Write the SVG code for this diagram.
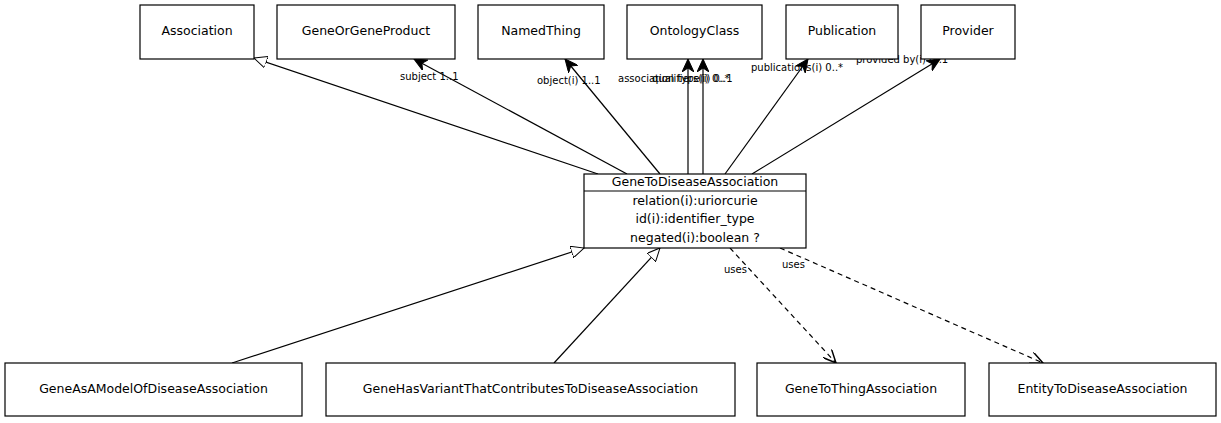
<svg xmlns="http://www.w3.org/2000/svg" width="1221" height="423" viewBox="0 0 1221 423">
<style>
.box{fill:#fff;stroke:#000;stroke-width:1.2}
.t{font-family:"DejaVu Sans",sans-serif;font-size:12.5px;text-anchor:middle;fill:#000}
.l{font-family:"DejaVu Sans",sans-serif;font-size:10px;fill:#000}
.c{fill:none;stroke:#000;stroke-width:1.2}
.d{fill:none;stroke:#000;stroke-width:1.2;stroke-dasharray:5,4}
</style>
<defs>
<marker id="tri" viewBox="0 0 14 12" refX="13" refY="6" markerWidth="14" markerHeight="12" markerUnits="userSpaceOnUse" orient="auto">
<path d="M0,0 L13,6 L0,12 Z" fill="#fff" stroke="#000" stroke-width="1"/>
</marker>
<marker id="open" viewBox="0 0 14 12" refX="13" refY="6" markerWidth="14" markerHeight="12" markerUnits="userSpaceOnUse" orient="auto">
<path d="M0,0 L13,6 L0,12 L4,6 Z" fill="#000" stroke="#000" stroke-width="1"/>
</marker>
<marker id="vee" viewBox="0 0 14 12" refX="13" refY="6" markerWidth="14" markerHeight="12" markerUnits="userSpaceOnUse" orient="auto">
<path d="M0,0 L13,6 L0,12" fill="none" stroke="#000" stroke-width="1.5"/>
</marker>
</defs>
<g id="connectors">
<path class="c" d="M598,174 L254,58" marker-end="url(#tri)"/>
<path class="c" d="M627,174 L414,59" marker-end="url(#open)"/>
<path class="c" d="M660,174 L565,59" marker-end="url(#open)"/>
<path class="c" d="M688,174 L688,59" marker-end="url(#open)"/>
<path class="c" d="M703,174 L703,59" marker-end="url(#open)"/>
<path class="c" d="M725,174 L808,59" marker-end="url(#open)"/>
<path class="c" d="M752,174 L940,59" marker-end="url(#open)"/>
<path class="c" d="M232,363 L584,248" marker-end="url(#tri)"/>
<path class="c" d="M554,363 L660,248" marker-end="url(#tri)"/>
<path class="d" d="M730,248 L836,363" marker-end="url(#vee)"/>
<path class="d" d="M780,248 L1043,363" marker-end="url(#vee)"/>
<text class="l" x="400" y="80">subject 1..1</text>
<text class="l" x="537" y="84">object(i) 1..1</text>
<text class="l" x="618" y="82">association type(i) 0..1</text>
<text class="l" x="652" y="82">qualifiers(i) 0..*</text>
<text class="l" x="751" y="71">publications(i) 0..*</text>
<text class="l" x="856" y="63">provided by(i) 0..1</text>
<text class="l" x="724" y="273">uses</text>
<text class="l" x="782" y="268">uses</text>
</g>
<g id="Association"><rect class="box" x="140" y="5" width="114" height="54"/><text class="t" x="197" y="35">Association</text></g>
<g id="GeneOrGeneProduct"><rect class="box" x="277" y="5" width="178" height="54"/><text class="t" x="366" y="35">GeneOrGeneProduct</text></g>
<g id="NamedThing"><rect class="box" x="478" y="5" width="126" height="54"/><text class="t" x="541" y="35">NamedThing</text></g>
<g id="OntologyClass"><rect class="box" x="627" y="5" width="135" height="54"/><text class="t" x="694.5" y="35">OntologyClass</text></g>
<g id="Publication"><rect class="box" x="786" y="5" width="112" height="54"/><text class="t" x="842" y="35">Publication</text></g>
<g id="Provider"><rect class="box" x="921" y="5" width="94" height="54"/><text class="t" x="968" y="35">Provider</text></g>
<g id="GeneToDiseaseAssociation">
<rect class="box" x="584" y="174" width="222" height="74"/>
<line class="c" x1="584" y1="191" x2="806" y2="191"/>
<text class="t" x="695" y="186">GeneToDiseaseAssociation</text>
<text class="t" x="695" y="205">relation(i):uriorcurie</text>
<text class="t" x="695" y="223">id(i):identifier_type</text>
<text class="t" x="695" y="242">negated(i):boolean ?</text>
</g>
<g id="GeneAsAModelOfDiseaseAssociation"><rect class="box" x="5" y="363" width="297" height="53"/><text class="t" x="153.5" y="393">GeneAsAModelOfDiseaseAssociation</text></g>
<g id="GeneHasVariantThatContributesToDiseaseAssociation"><rect class="box" x="326" y="363" width="409" height="53"/><text class="t" x="530.5" y="393">GeneHasVariantThatContributesToDiseaseAssociation</text></g>
<g id="GeneToThingAssociation"><rect class="box" x="757" y="363" width="208" height="53"/><text class="t" x="861" y="393">GeneToThingAssociation</text></g>
<g id="EntityToDiseaseAssociation"><rect class="box" x="989" y="363" width="227" height="53"/><text class="t" x="1102.5" y="393">EntityToDiseaseAssociation</text></g>
</svg>
